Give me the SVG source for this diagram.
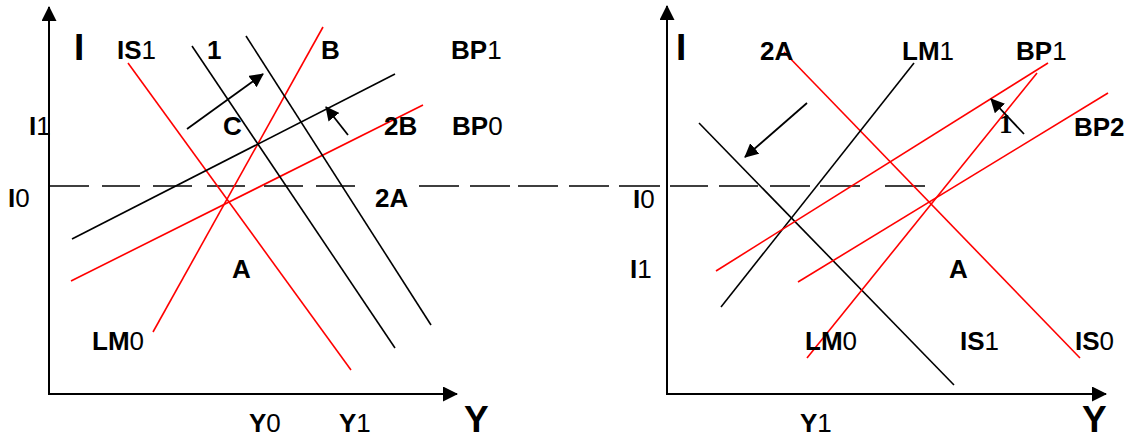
<svg xmlns="http://www.w3.org/2000/svg" width="1133" height="438" viewBox="0 0 1133 438">
<style>
.ax{stroke:#000;stroke-width:2;fill:none}
.k{stroke:#000;stroke-width:1.6;fill:none}
.r{stroke:#ff0000;stroke-width:1.6;fill:none}
.ar{stroke:#000;stroke-width:1.8;fill:none}
.dash{stroke:#000;stroke-width:1.5;fill:none}
text{font-family:"Liberation Sans",Arial,sans-serif;font-size:26px;font-weight:bold;fill:#000}
.n{font-weight:normal}
.big{font-size:37px}
.serif{font-family:"Liberation Serif","Times New Roman",serif;font-size:27px}
</style>
<defs>
<marker id="ah" viewBox="0 0 14 14" refX="13" refY="7" markerWidth="14" markerHeight="14" markerUnits="userSpaceOnUse" orient="auto"><path d="M0,0 L14,7 L0,14 z" fill="#000"/></marker>
<marker id="axh" viewBox="0 0 15 15" refX="14" refY="7.5" markerWidth="15" markerHeight="15" markerUnits="userSpaceOnUse" orient="auto"><path d="M0,0 L15,7.5 L0,15 z" fill="#000"/></marker>
</defs>

<g id="axes">
<line class="ax" x1="49" y1="394" x2="49" y2="7" marker-end="url(#axh)"/>
<line class="ax" x1="48" y1="394" x2="457" y2="394" marker-end="url(#axh)"/>
<line class="ax" x1="667" y1="394" x2="667" y2="6" marker-end="url(#axh)"/>
<line class="ax" x1="666" y1="394" x2="1106" y2="394" marker-end="url(#axh)"/>
</g>

<g id="dashed-I0">
<path class="dash" d="M50,186H89M102,186H140M153,186H192M207,186H245M264,186H303M316,186H355M419,186H459M470,186H510M518,186H558M569,186H609M619,186H660M670,186H708M719,186H758M770,186H810M820,186H860M885,186H925"/>
</g>

<g id="connectors">
<line id="left-IS1" class="r" x1="128" y1="63" x2="351" y2="370"/>
<line id="left-LM0" class="r" x1="153" y1="332" x2="323" y2="27"/>
<line id="left-BP0" class="r" x1="71" y1="281" x2="423" y2="105"/>
<line id="left-BP1" class="k" x1="72" y1="239" x2="395" y2="74"/>
<line id="left-IS-a" class="k" x1="192" y1="46" x2="395" y2="348"/>
<line id="left-IS-b" class="k" x1="246" y1="36" x2="431" y2="325"/>
<line class="ar" x1="187" y1="129" x2="263" y2="74" marker-end="url(#ah)"/>
<line class="ar" x1="348" y1="135" x2="326" y2="107" marker-end="url(#ah)"/>

<line id="right-IS0" class="r" x1="784" y1="52" x2="1080" y2="358"/>
<line id="right-LM1" class="k" x1="914" y1="63" x2="721" y2="307"/>
<line id="right-IS1" class="k" x1="699" y1="123" x2="954" y2="385"/>
<line id="right-BP1" class="r" x1="1048" y1="63" x2="716" y2="271"/>
<line id="right-BP2" class="r" x1="1108" y1="93" x2="798" y2="282"/>
<line id="right-LM0" class="r" x1="1037" y1="73" x2="807" y2="358"/>
<line class="ar" x1="807" y1="103" x2="745" y2="157" marker-end="url(#ah)"/>
<line class="ar" x1="1024" y1="134" x2="991" y2="99" marker-end="url(#ah)"/>
</g>

<g id="left-labels">
<text class="big" x="74" y="60">I</text>
<text x="117" y="59">IS<tspan class="n">1</tspan></text>
<text x="207" y="59">1</text>
<text x="321" y="59">B</text>
<text x="451" y="59">BP<tspan class="n">1</tspan></text>
<text x="29" y="135">I<tspan class="n">1</tspan></text>
<text x="223" y="135">C</text>
<text x="384" y="135">2B</text>
<text x="452" y="135">BP<tspan class="n">0</tspan></text>
<text x="8" y="207">I<tspan class="n">0</tspan></text>
<text x="375" y="207">2A</text>
<text x="232" y="278">A</text>
<text x="92" y="350">LM<tspan class="n">0</tspan></text>
<text x="249" y="432">Y<tspan class="n">0</tspan></text>
<text x="339" y="432">Y<tspan class="n">1</tspan></text>
<text class="big" x="464" y="432">Y</text>
</g>

<g id="right-labels">
<text class="big" x="676" y="60">I</text>
<text x="760" y="60">2A</text>
<text x="902" y="60">LM<tspan class="n">1</tspan></text>
<text x="1016" y="60">BP<tspan class="n">1</tspan></text>
<text class="serif" x="999" y="133">1</text>
<text x="1074" y="136">BP2</text>
<text x="633" y="208">I<tspan class="n">0</tspan></text>
<text x="630" y="278">I<tspan class="n">1</tspan></text>
<text x="949" y="278">A</text>
<text x="805" y="350">LM<tspan class="n">0</tspan></text>
<text x="960" y="350">IS<tspan class="n">1</tspan></text>
<text x="1075" y="350">IS<tspan class="n">0</tspan></text>
<text x="800" y="432">Y<tspan class="n">1</tspan></text>
<text class="big" x="1082" y="432">Y</text>
</g>
</svg>
